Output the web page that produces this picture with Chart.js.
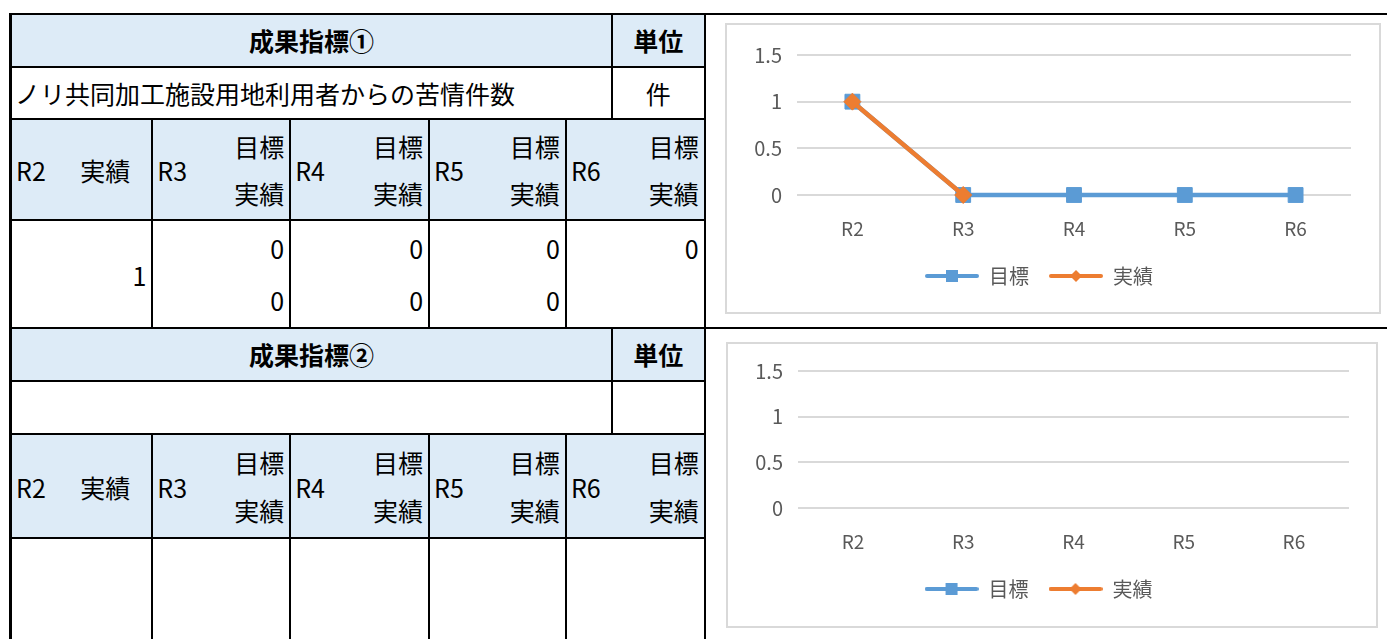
<!DOCTYPE html>
<html lang="ja">
<head>
<meta charset="utf-8">
<script src="https://cdn.jsdelivr.net/npm/chart.js@4.4.1/dist/chart.umd.min.js"></script>
<style>
html,body{margin:0;padding:0;background:#fff;width:1387px;height:639px;overflow:hidden;}
body{position:relative;font-family:"Noto Sans CJK JP",sans-serif;}
#tbl{position:absolute;left:9px;top:13px;border-collapse:collapse;table-layout:fixed;font-size:25px;color:#000;}
#tbl td{border:2px solid #000;padding:0;position:relative;line-height:1;}
#tbl td.hd{background:#ddebf7;}
#tbl td.edge{border-left-width:3px;}
#tbl td.nr{border-right:none;border-bottom:none;background:transparent;}
.b{font-weight:bold;text-align:center;}
.c{text-align:center;}
.s{position:absolute;white-space:nowrap;}
.box{position:absolute;border:2px solid #d9d9d9;background:#fff;}
</style>
</head>
<body>
<table id="tbl">
<colgroup><col style="width:142px"><col style="width:138px"><col style="width:139px"><col style="width:137px"><col style="width:46px"><col style="width:93px"><col style="width:683px"></colgroup>
<tr style="height:53px"><td colspan="5" class="hd b edge">成果指標①</td><td class="hd b">単位</td><td rowspan="4" class="nr"></td></tr>
<tr style="height:52px"><td colspan="5" class="edge"><span class="s" style="left:3px;top:13px">ノリ共同加工施設用地利用者からの苦情件数</span></td><td class="c">件</td></tr>
<tr style="height:101px">
<td class="hd edge"><span class="s" style="left:4px;top:38px">R2</span><span class="s" style="right:21px;top:38px">実績</span></td>
<td class="hd"><span class="s" style="left:4px;top:38px">R3</span><span class="s" style="right:5px;top:14px">目標</span><span class="s" style="right:5px;top:61px">実績</span></td>
<td class="hd"><span class="s" style="left:4px;top:38px">R4</span><span class="s" style="right:5px;top:14px">目標</span><span class="s" style="right:5px;top:61px">実績</span></td>
<td class="hd"><span class="s" style="left:4px;top:38px">R5</span><span class="s" style="right:5px;top:14px">目標</span><span class="s" style="right:5px;top:61px">実績</span></td>
<td class="hd" colspan="2"><span class="s" style="left:4px;top:38px">R6</span><span class="s" style="right:5px;top:14px">目標</span><span class="s" style="right:5px;top:61px">実績</span></td>
</tr>
<tr style="height:108px">
<td class="edge"><span class="s" style="right:5px;top:42px">1</span></td>
<td><span class="s" style="right:5px;top:15px">0</span><span class="s" style="right:5px;top:67px">0</span></td>
<td><span class="s" style="right:5px;top:15px">0</span><span class="s" style="right:5px;top:67px">0</span></td>
<td><span class="s" style="right:5px;top:15px">0</span><span class="s" style="right:5px;top:67px">0</span></td>
<td colspan="2"><span class="s" style="right:5px;top:15px">0</span></td>
</tr>
<tr style="height:53px"><td colspan="5" class="hd b edge">成果指標②</td><td class="hd b">単位</td><td rowspan="4" class="nr" style="border-top:2px solid #000"></td></tr>
<tr style="height:53px"><td colspan="5" class="edge"></td><td></td></tr>
<tr style="height:104px">
<td class="hd edge"><span class="s" style="left:4px;top:40px">R2</span><span class="s" style="right:21px;top:40px">実績</span></td>
<td class="hd"><span class="s" style="left:4px;top:40px">R3</span><span class="s" style="right:5px;top:15px">目標</span><span class="s" style="right:5px;top:63px">実績</span></td>
<td class="hd"><span class="s" style="left:4px;top:40px">R4</span><span class="s" style="right:5px;top:15px">目標</span><span class="s" style="right:5px;top:63px">実績</span></td>
<td class="hd"><span class="s" style="left:4px;top:40px">R5</span><span class="s" style="right:5px;top:15px">目標</span><span class="s" style="right:5px;top:63px">実績</span></td>
<td class="hd" colspan="2"><span class="s" style="left:4px;top:40px">R6</span><span class="s" style="right:5px;top:15px">目標</span><span class="s" style="right:5px;top:63px">実績</span></td>
</tr>
<tr style="height:122px"><td class="edge"></td><td></td><td></td><td></td><td colspan="2"></td></tr>
</table>

<div class="box" style="left:725px;top:23px;width:652px;height:287px"><canvas id="chart1"></canvas></div>
<div class="box" style="left:726px;top:342px;width:648px;height:282px"><canvas id="chart2"></canvas></div>

<script>
// 年度
var categories = ['R2', 'R3', 'R4', 'R5', 'R6'];
// 成果指標① 目標・実績
var target1 = [1, 0, 0, 0, 0];
var actual1 = [1, 0, null, null, null];
// 成果指標② (未入力)
var target2 = [null, null, null, null, null];
var actual2 = [null, null, null, null, null];
// y軸目盛
var yTicks = [0, 0.5, 1, 1.5];

var FONT = '"Noto Sans CJK JP", sans-serif';
var BLUE = '#5b9bd5';
var ORANGE = '#ed7d31';

// 凡例用アイコン (線＋マーカー)
var legendIcon = function(color, shape) {
	var c = document.createElement('canvas');
	c.width = 54;
	c.height = 16;
	var ctx = c.getContext('2d');
	ctx.strokeStyle = color;
	ctx.lineWidth = 4;
	ctx.lineCap = 'round';
	ctx.beginPath();
	ctx.moveTo(2, 8);
	ctx.lineTo(52, 8);
	ctx.stroke();
	ctx.fillStyle = color;
	if (shape == 'rect') {
		ctx.fillRect(21, 2, 12, 12);
	} else {
		ctx.beginPath();
		ctx.moveTo(27, 2);
		ctx.lineTo(33, 8);
		ctx.lineTo(27, 14);
		ctx.lineTo(21, 8);
		ctx.closePath();
		ctx.fill();
	}
	return c;
}
var icons = [legendIcon(BLUE, 'rect'), legendIcon(ORANGE, 'diamond')];

var makeChart = function(id, target, actual, pad) {
	return new Chart(document.getElementById(id), {
		type: 'line',
		data: {
			labels: categories,
			datasets: [
			{
				label: '目標',
				data: target,
				borderColor: BLUE,
				backgroundColor: BLUE,
				borderWidth: 4.5,
				pointStyle: 'rect',
				pointRadius: 10.5,
				pointBorderWidth: 1,
				tension: 0,
				clip: false,
				order: 1
			},
			{
				label: '実績',
				data: actual,
				borderColor: ORANGE,
				backgroundColor: ORANGE,
				borderWidth: 4.5,
				pointStyle: 'rectRot',
				pointRadius: 8.5,
				pointBorderWidth: 1,
				tension: 0,
				clip: false,
				order: 0
			}
			]
		},
		options: {
			responsive: true,
			maintainAspectRatio: false,
			animation: false,
			events: [],
			layout: { padding: { top: pad.top, right: pad.right, bottom: pad.bottom, left: 0 } },
			plugins: {
				tooltip: { enabled: false },
				legend: {
					position: 'bottom',
					labels: {
						usePointStyle: true,
						pointStyleWidth: 54,
						padding: 20,
						color: '#595959',
						font: { family: FONT, size: 20 },
						generateLabels: function(chart) {
							var items = Chart.defaults.plugins.legend.labels.generateLabels(chart);
							items.forEach(function(it) { it.pointStyle = icons[it.datasetIndex]; });
							items.sort(function(a, b) { return a.datasetIndex - b.datasetIndex; });
							return items;
						}
					}
				}
			},
			scales: {
				x: {
					offset: true,
					grid: { display: false, drawTicks: false },
					border: { display: false },
					ticks: { color: '#595959', padding: pad.xpad, font: { family: FONT, size: 19 } },
					afterFit: function(s) { s.height = pad.xh; }
				},
				y: {
					min: 0,
					max: 1.5,
					grid: { color: '#d9d9d9', lineWidth: 2, drawTicks: false },
					border: { display: false },
					ticks: {
						color: '#595959',
						padding: 15,
						font: { family: FONT, size: 20 },
						callback: function(v) { return String(v); }
					},
					afterBuildTicks: function(s) { s.ticks = yTicks.map(function(v) { return { value: v }; }); },
					afterFit: function(s) { s.width = 70; }
				}
			}
		}
	});
}

makeChart('chart1', target1, actual1, { top: 30, right: 28, bottom: 16, xh: 51, xpad: 22 });
makeChart('chart2', target2, actual2, { top: 27, right: 27, bottom: 17, xh: 51, xpad: 22 });
</script>
</body>
</html>
